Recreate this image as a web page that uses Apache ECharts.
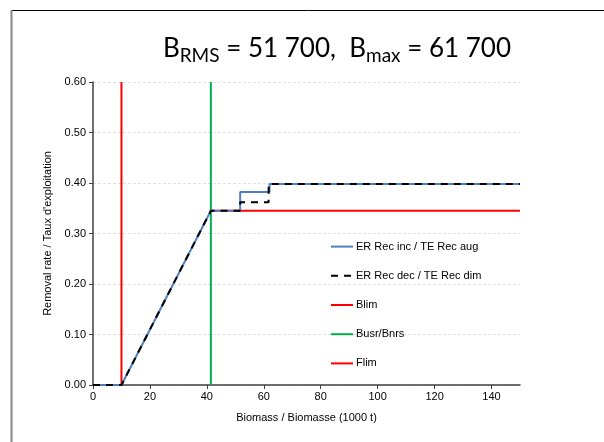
<!DOCTYPE html>
<html>
<head>
<meta charset="utf-8">
<script src="https://cdn.jsdelivr.net/npm/echarts@6/dist/echarts.min.js"></script>
<style>
  html, body { margin: 0; padding: 0; background: #fff; }
  #chart { width: 604px; height: 442px; }
</style>
</head>
<body>
<div id="chart"></div>
<script>
// reference points, harvest control rule
var blim = 10;
var busr = 41.4;
var flim = 0.345;
var xMax = 150;

var erIncData = [[0, 0], [10, 0], [41.4, 0.345], [51.7, 0.345], [51.7, 0.382], [62, 0.382], [62, 0.398], [150, 0.398]];
var erDecData = [[0, 0], [10, 0], [41.4, 0.345], [51.7, 0.345], [51.7, 0.362], [61.7, 0.362], [61.7, 0.398], [150, 0.398]];
var blimData = [[blim, 0], [blim, 0.6]];
var busrData = [[busr, 0], [busr, 0.6]];
var flimData = [[busr, flim], [xMax, flim]];

var seriesNames = ['ER Rec inc / TE Rec aug', 'ER Rec dec / TE Rec dim', 'Blim', 'Busr/Bnrs', 'Flim'];

(function () {
  var chart = echarts.init(document.getElementById('chart'), null, { renderer: 'canvas' });
  var font = '"Liberation Sans", Arial, sans-serif';

  chart.setOption({
    animation: false,
    title: {
      right: 88,
      top: 28,
      text: 'B{sub|RMS} = 51 700,  B{sub|max} = 61 700',
      textStyle: {
        fontFamily: 'Lato, sans-serif',
        fontSize: 26,
        fontWeight: 'normal',
        color: '#000',
        lineHeight: 32,
        rich: {
          sub: {
            fontFamily: 'Lato, sans-serif',
            fontSize: 19,
            color: '#000',
            lineHeight: 32,
            verticalAlign: 'bottom',
            padding: [16, 0, 0, 0]
          }
        }
      }
    },
    graphic: [
      { type: 'line', shape: { x1: 11, y1: 10.5, x2: 604, y2: 10.5 }, style: { stroke: '#000', lineWidth: 1 } },
      { type: 'line', shape: { x1: 11.5, y1: 10, x2: 11.5, y2: 442 }, style: { stroke: '#888', lineWidth: 2 } }
    ],
    legend: {
      orient: 'vertical',
      left: 325,
      top: 236,
      itemWidth: 22,
      itemHeight: 14,
      itemGap: 18,
      data: seriesNames,
      itemStyle: { opacity: 0 },
      textStyle: { fontFamily: font, fontSize: 11, color: '#000', padding: [0, 0, 0, -2] }
    },
    grid: { left: 93, right: 84, top: 82, bottom: 57 },
    xAxis: {
      type: 'value',
      min: 0,
      max: xMax,
      interval: 20,
      name: 'Biomass / Biomasse (1000 t)',
      nameLocation: 'middle',
      nameGap: 27,
      nameTextStyle: { fontFamily: font, fontSize: 11, color: '#000' },
      axisLine: { onZero: false, lineStyle: { color: '#404040', width: 1.5 } },
      axisTick: { show: true, length: 4, lineStyle: { color: '#404040' } },
      axisLabel: { fontFamily: font, fontSize: 11, color: '#000', margin: 6, showMaxLabel: false },
      splitLine: { show: false }
    },
    yAxis: {
      type: 'value',
      min: 0,
      max: 0.6,
      interval: 0.1,
      name: "Removal rate / Taux d'exploitation",
      nameLocation: 'middle',
      nameGap: 38,
      nameTextStyle: { fontFamily: font, fontSize: 11, color: '#000' },
      axisLine: { show: true, lineStyle: { color: '#404040', width: 1.5 } },
      axisTick: { show: true, length: 4, lineStyle: { color: '#404040' } },
      axisLabel: {
        fontFamily: font, fontSize: 11, color: '#000', margin: 7,
        formatter: function (v) { return v.toFixed(2); }
      },
      splitLine: { show: true, lineStyle: { color: '#e0e0e0', type: [3, 2] } }
    },
    series: [
      {
        name: seriesNames[0], type: 'line', data: erIncData, symbol: 'none', z: 3,
        lineStyle: { color: '#4f7fc0', width: 2 }, itemStyle: { color: '#4f7fc0' }
      },
      {
        name: seriesNames[1], type: 'line', data: erDecData, symbol: 'none', z: 4,
        lineStyle: { color: '#000', width: 2, type: [7, 6] }, itemStyle: { color: '#000' }
      },
      {
        name: seriesNames[2], type: 'line', data: blimData, symbol: 'none', z: 2,
        lineStyle: { color: '#ff0000', width: 2 }, itemStyle: { color: '#ff0000' }
      },
      {
        name: seriesNames[3], type: 'line', data: busrData, symbol: 'none', z: 2,
        lineStyle: { color: '#00b050', width: 2 }, itemStyle: { color: '#00b050' }
      },
      {
        name: seriesNames[4], type: 'line', data: flimData, symbol: 'none', z: 2,
        lineStyle: { color: '#ff0000', width: 2 }, itemStyle: { color: '#ff0000' }
      }
    ]
  });
  window.addEventListener('resize', function () { chart.resize(); });
})();
</script>
</body>
</html>
